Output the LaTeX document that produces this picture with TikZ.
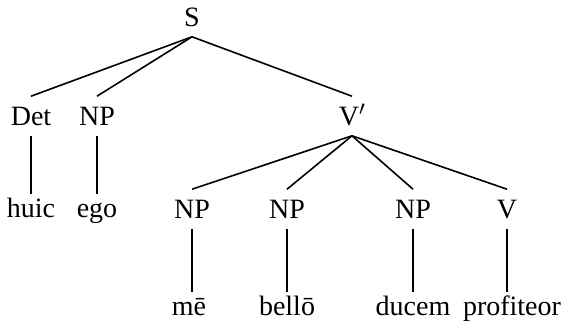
\documentclass[tikz,border=0pt]{standalone}
\usepackage{fontspec}
\setmainfont{Liberation Serif}
\usetikzlibrary{positioning}

\begin{document}
\begin{tikzpicture}[
    x=1pt, y=1pt,
    category/.style={rectangle, inner xsep=1pt, inner ysep=10pt,
        text height=18pt, text depth=0pt, font=\fontsize{28}{34}\selectfont},
    word/.style={rectangle, inner xsep=1pt, inner ysep=5pt,
        text height=18pt, text depth=0pt, font=\fontsize{28}{34}\selectfont},
    node distance=63pt,
    line width=1.6pt]
        \useasboundingbox (0,0) rectangle (567,-327);

        \node[category, anchor=base] (s) at (192,-26) {S};

        \node[category, anchor=base] (det) at (31,-125) {Det};
        \node[category, anchor=base] (np_1) at (97,-125) {NP};
        \node[category, anchor=base] (vbar) at (352,-125) {V$'$};

        \node[word] (huic) [below=58pt of det] {huic};
        \node[word] (ego) [below=58pt of np_1] {ego};

        \node[category, anchor=base] (np_2) at (192,-218) {NP};
        \node[category, anchor=base] (np_3) at (287,-218) {NP};
        \node[category, anchor=base] (np_4) at (413,-218) {NP};
        \node[category, anchor=base] (v) at (507,-218) {V};

        \node[word] (me) [below=of np_2, xshift=-3pt] {mē};
        \node[word] (bello) [below=of np_3] {bellō};
        \node[word] (ducem) [below=of np_4] {ducem};
        \node[word] (profiteor) [below=of v, xshift=5pt] {profiteor};

        \draw (s.south) -- (det.north);
        \draw (s.south) -- (np_1.north);
        \draw (s.south) -- (vbar.north);

        \draw (det) -- (huic);
        \draw (np_1) -- (ego);

        \draw (vbar.south) -- (np_2.north);
        \draw (vbar.south) -- (np_3.north);
        \draw (vbar.south) -- (np_4.north);
        \draw (vbar.south) -- (v.north);

        \draw (np_2.south) -- (np_2.south |- me.north);
        \draw (np_3) -- (bello);
        \draw (np_4) -- (ducem);
        \draw (v.south) -- (v.south |- profiteor.north);

    \end{tikzpicture}
\end{document}
